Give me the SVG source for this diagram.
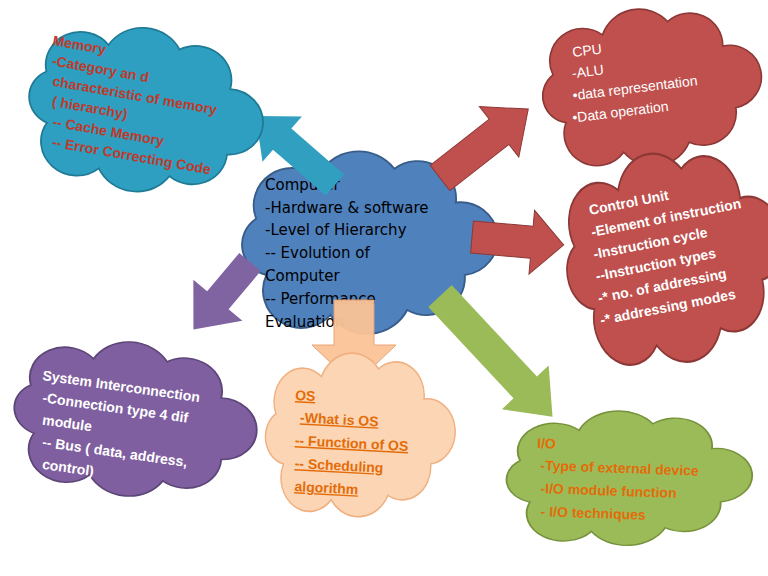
<svg xmlns="http://www.w3.org/2000/svg" width="768" height="576" viewBox="0 0 768 576">
<defs>
<path id="cloud" d="M30,100 A25,25 0 0 1 22,55 A30,30 0 0 1 70,22 A35,35 0 0 1 130,15 A30,30 0 0 1 178,42 A28,28 0 0 1 185,100 A30,30 0 0 1 140,128 A35,35 0 0 1 80,132 A30,30 0 0 1 30,100 Z"/>
<style>
.c{stroke-width:1.5}
.w{font-family:"Liberation Sans",Arial,sans-serif;font-size:14px;font-weight:bold;fill:#fff}
.r{font-family:"Liberation Sans",Arial,sans-serif;font-size:14px;font-weight:bold;fill:#c0392b}
.o{font-family:"Liberation Sans",Arial,sans-serif;font-size:14px;font-weight:bold;fill:#e36c09}
.k{font-family:"DejaVu Sans",sans-serif;font-size:15px;fill:#000}
</style>
</defs>
<rect width="768" height="576" fill="#fff"/>
<g id="central">
<use href="#cloud" transform="translate(228,150) scale(1.28,1.25)" fill="#4f81bd" stroke="#385d8a" class="c"/>
<text class="k"><tspan x="265" y="190">Computer</tspan><tspan x="265" y="213">-Hardware &amp; software</tspan><tspan x="265" y="235">-Level of Hierarchy</tspan><tspan x="265" y="258">-- Evolution of</tspan><tspan x="265" y="281">Computer</tspan><tspan x="265" y="304">-- Performance</tspan><tspan x="265" y="327">Evaluation</tspan></text>
</g>
<g id="connectors">
<polygon points="0,-14 70,-14 70,-30 105,0 70,30 70,14 0,14" fill="#31a0c0" transform="translate(335,185) rotate(-139)"/>
<polygon points="0,-16 75,-16 75,-32 112,0 75,32 75,16 0,16" fill="#c0504d" stroke="#8c3836" transform="translate(440,178) rotate(-38)"/>
<polygon points="0,-16 60,-16 60,-32 92,0 60,32 60,16 0,16" fill="#c0504d" stroke="#8c3836" transform="translate(472,237) rotate(5)"/>
<polygon points="0,-14 50,-14 50,-32 88,0 50,32 50,14 0,14" fill="#8064a2" transform="translate(250,262) rotate(130)"/>
<polygon points="-20,0 20,0 20,45 42,45 0,85 -42,45 -20,45" fill="#fbc497" stroke="#e8a070" opacity="0.95" transform="translate(354,300)"/>
<polygon points="0,-16 125,-16 125,-32 165,0 125,32 125,16 0,16" fill="#9bbb59" transform="translate(440,296) rotate(47)"/>
</g>
<g id="memory">
<use href="#cloud" transform="rotate(10 130 110) translate(15,25) scale(1.18,1.12)" fill="#2e9fc0" stroke="#1f7a95" class="c"/>
<text class="r" transform="rotate(10 52 45)"><tspan x="52" y="45">Memory</tspan><tspan x="55" y="65">-Category an d</tspan><tspan x="59" y="85">characteristic of memory</tspan><tspan x="62" y="105">( hierarchy)</tspan><tspan x="66" y="125">-- Cache Memory</tspan><tspan x="69" y="145">-- Error Correcting Code</tspan></text>
</g>
<g id="cpu">
<use href="#cloud" transform="rotate(-5 640 85) translate(530,8) scale(1.1,1.08)" fill="#c0504d" stroke="#8c3836" class="c"/>
<text class="w" style="font-weight:normal" transform="rotate(-7 573 57)"><tspan x="573" y="57">CPU</tspan><tspan x="570" y="78">-ALU</tspan><tspan x="568" y="100">•data representation</tspan><tspan x="565" y="122">•Data operation</tspan></text>
</g>
<g id="control">
<use href="#cloud" transform="rotate(-10 660 255) translate(553,152) scale(1.1,1.45)" fill="#c0504d" stroke="#8c3836" class="c"/>
<text class="w" transform="rotate(-11 590 215)"><tspan x="590" y="215">Control Unit</tspan><tspan x="588" y="237">-Element of instruction</tspan><tspan x="586" y="259">-Instruction cycle</tspan><tspan x="584" y="281">--Instruction types</tspan><tspan x="582" y="303">-* no. of addressing</tspan><tspan x="580" y="325">-* addressing modes</tspan></text>
</g>
<g id="system">
<use href="#cloud" transform="rotate(8 120 420) translate(0,340) scale(1.22,1.05)" fill="#7f5fa0" stroke="#5c4577" class="c"/>
<text class="w" transform="rotate(8 42 380)"><tspan x="42" y="380">System Interconnection</tspan><tspan x="45" y="402">-Connection type 4 dif</tspan><tspan x="48" y="424">module</tspan><tspan x="51" y="446">-- Bus ( data, address,</tspan><tspan x="54" y="468">control)</tspan></text>
</g>
<g id="os">
<use href="#cloud" transform="translate(255,352) scale(0.95,1.12)" fill="#fcd5b4" stroke="#f0b080" class="c"/>
<text class="o" text-decoration="underline" transform="rotate(3 295 400)"><tspan x="295" y="400">OS</tspan><tspan x="301" y="422">-What is OS</tspan><tspan x="297" y="445">-- Function of OS</tspan><tspan x="298" y="468">-- Scheduling</tspan><tspan x="299" y="491">algorithm</tspan></text>
</g>
<g id="io">
<use href="#cloud" transform="translate(493,410) scale(1.23,0.92)" fill="#9bbb59" stroke="#76923c" class="c"/>
<text class="o" transform="rotate(2 537 448)"><tspan x="537" y="448">I/O</tspan><tspan x="541" y="470">-Type of external device</tspan><tspan x="542" y="493">-I/O module function</tspan><tspan x="543" y="516">- I/O techniques</tspan></text>
</g>
</svg>
